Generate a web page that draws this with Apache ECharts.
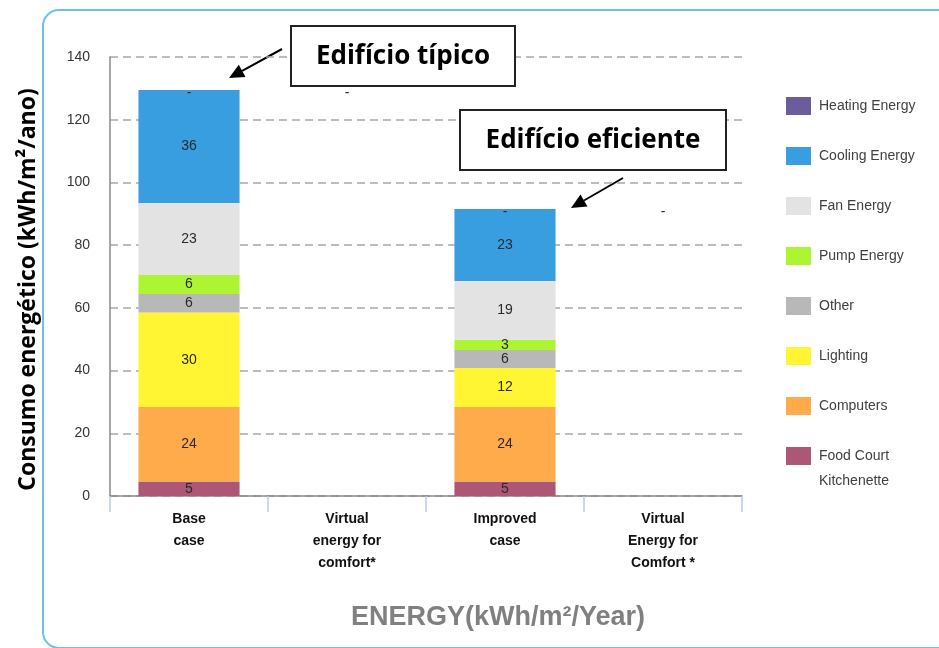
<!DOCTYPE html>
<html>
<head>
<meta charset="utf-8">
<script src="https://cdn.jsdelivr.net/npm/echarts@6/dist/echarts.min.js"></script>
<style>html,body{margin:0;padding:0;background:#fff;}#c{width:939px;height:648px;}</style>
</head>
<body>
<div id="c"></div>
<script>
const categories = ['Base\ncase', 'Virtual\nenergy for\ncomfort*', 'Improved\ncase', 'Virtual\nEnergy for\nComfort *'];
const yTicks = [0, 20, 40, 60, 80, 100, 120, 140];
const foodCourt = [4.6, null, 4.6, null];
const computers = [23.8, null, 23.8, null];
const lighting = [30.1, null, 12.4, null];
const other = [5.9, null, 5.8, null];
const pump = [6.1, null, 3.2, null];
const fan = [22.9, null, 18.8, null];
const cooling = [36.1, null, 22.9, null];
const heating = [0, 0, 0, 0];
const seriesNames = ['Food Court Kitchenette', 'Computers', 'Lighting', 'Other', 'Pump Energy', 'Fan Energy', 'Cooling Energy', 'Heating Energy'];
const legendOrder = ['Heating Energy', 'Cooling Energy', 'Fan Energy', 'Pump Energy', 'Other', 'Lighting', 'Computers', 'Food Court Kitchenette'];
const colors = {
  'Food Court Kitchenette': '#ad5676',
  'Computers': '#ffab4b',
  'Lighting': '#fff533',
  'Other': '#b7b8b7',
  'Pump Energy': '#adf532',
  'Fan Energy': '#e2e3e2',
  'Cooling Energy': '#389ee0',
  'Heating Energy': '#6c5c9c'
};
const values = [foodCourt, computers, lighting, other, pump, fan, cooling, heating];

// virtual categories sit on the total of the preceding case
const totals = categories.map((c, i) => values.reduce((s, arr) => s + (arr[i] || 0), 0));
const offset = categories.map((c, i) => (i % 2 === 1 ? totals[i - 1] : 0));

const chart = echarts.init(document.getElementById('c'), null, {renderer: 'canvas'});
const series = [{
  name: '_offset', type: 'bar', stack: 'e', data: offset, silent: true,
  itemStyle: {color: 'rgba(0,0,0,0)'}, label: {show: false}, barCategoryGap: '36%'
}];
seriesNames.forEach((n, k) => {
  series.push({
    name: n, type: 'bar', stack: 'e', data: values[k], barCategoryGap: '36%',
    itemStyle: {color: colors[n]},
    label: {
      show: true, position: 'inside', color: '#2a2a2a', fontSize: 14,
      fontFamily: 'Liberation Sans, Arial, sans-serif',
      offset: n === 'Heating Energy' ? [0, 3] : [0, 0],
      formatter: p => (p.value === 0 ? '-' : (p.value == null ? '' : String(Math.round(p.value))))
    }
  });
});

function arrow(x1, y1, x2, y2) {
  const dx = x2 - x1, dy = y2 - y1, L = Math.hypot(dx, dy);
  const ux = dx / L, uy = dy / L, hl = 15, hw = 7;
  const bx = x2 - ux * hl, by = y2 - uy * hl;
  return [
    {type: 'line', shape: {x1: x1, y1: y1, x2: bx, y2: by}, style: {stroke: '#000', lineWidth: 2}},
    {type: 'polygon', shape: {points: [[x2, y2], [bx - uy * hw, by + ux * hw], [bx + uy * hw, by - ux * hw]]}, style: {fill: '#000'}}
  ];
}

const annFont = 'bold 26px "Open Sans", sans-serif';
const graphics = [
  {type: 'rect', shape: {x: 43, y: 10, width: 1000, height: 638, r: 16}, style: {fill: 'none', stroke: '#6cc0ea', lineWidth: 2}, z: -1},
  {type: 'rect', shape: {x: 291, y: 26, width: 224, height: 60}, style: {fill: '#fff', stroke: '#222', lineWidth: 2}, z: 10},
  {type: 'text', x: 403, y: 57, style: {text: 'Edifício típico', font: annFont, fill: '#000', align: 'center', verticalAlign: 'middle'}, z: 11},
  {type: 'rect', shape: {x: 460, y: 110, width: 266, height: 60}, style: {fill: '#fff', stroke: '#222', lineWidth: 2}, z: 10},
  {type: 'text', x: 593, y: 141, style: {text: 'Edifício eficiente', font: annFont, fill: '#000', align: 'center', verticalAlign: 'middle'}, z: 11},
  {type: 'text', x: 819, y: 481, style: {text: 'Kitchenette', font: '14px "Liberation Sans", Arial, sans-serif', fill: '#404040', align: 'left', verticalAlign: 'middle'}}
].concat(arrow(282, 49, 229, 78)).concat(arrow(623, 178, 571, 208));

chart.setOption({
  animation: false,
  grid: {left: 110, right: 197, top: 57, bottom: 152},
  legend: {
    orient: 'vertical', left: 786, top: 97, padding: 0, itemWidth: 25, itemHeight: 18, itemGap: 32,
    data: legendOrder.map(n => ({name: n, icon: 'rect'})),
    formatter: n => (n === 'Food Court Kitchenette' ? 'Food Court' : n),
    textStyle: {fontSize: 14, color: '#404040', fontFamily: 'Liberation Sans, Arial, sans-serif', padding: [0, 0, 0, 3]},
    selectedMode: false
  },
  xAxis: {
    type: 'category', data: categories,
    axisLine: {lineStyle: {color: '#8a8a8a', width: 1.5}},
    axisTick: {show: true, length: 16, lineStyle: {color: '#b8cce4', width: 1.5}},
    axisLabel: {fontSize: 14, fontWeight: 'bold', color: '#111', lineHeight: 22, margin: 12, fontFamily: 'Liberation Sans, Arial, sans-serif'},
    name: 'ENERGY(kWh/m²/Year)', nameLocation: 'middle', nameGap: 108,
    nameTextStyle: {fontSize: 27, fontWeight: 'bold', color: '#808080', fontFamily: 'Liberation Sans, Arial, sans-serif', padding: [0, 0, 0, 144]}
  },
  yAxis: {
    type: 'value', min: yTicks[0], max: yTicks[yTicks.length - 1], interval: yTicks[1] - yTicks[0],
    axisLine: {show: true, lineStyle: {color: '#8a8a8a', width: 1.5}},
    axisTick: {show: false},
    axisLabel: {fontSize: 14, color: '#333', margin: 20, fontFamily: 'Liberation Sans, Arial, sans-serif'},
    splitLine: {lineStyle: {color: '#a8a8a8', type: [8, 5], width: 1.5}},
    name: 'Consumo energético (kWh/m²/ano)', nameLocation: 'middle', nameGap: 70, nameRotate: 90,
    nameTextStyle: {fontSize: 23, fontWeight: 'bold', color: '#000', fontFamily: '"Open Sans", sans-serif', padding: [0, 26, 0, 0]}
  },
  series: series,
  graphic: graphics
});
</script>
</body>
</html>
